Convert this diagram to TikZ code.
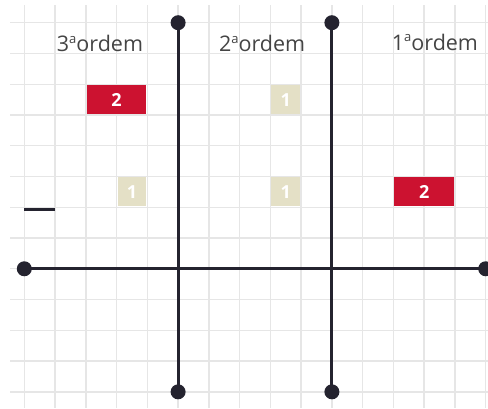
\documentclass[tikz,border=0pt]{standalone}
\usepackage{fontspec}
\setmainfont{Open Sans}
\definecolor{gridc}{HTML}{E6E6E6}
\definecolor{axisc}{HTML}{24232F}
\definecolor{redc}{HTML}{CC1230}
\definecolor{beigec}{HTML}{E4E0C6}
\definecolor{textc}{HTML}{444444}
\newcommand{\ordtxt}[1]{#1\raisebox{0.40em}{\fontsize{13}{13}\selectfont a}ordem}
\begin{document}
\begin{tikzpicture}[x=30.76pt,y=-30.76pt,
  gridline/.style={draw=gridc,line width=1.4pt},
  axis/.style={draw=axisc,line width=3pt},
  enddot/.style={circle,fill=axisc,inner sep=0pt,minimum size=15pt},
  redbox/.style={fill=redc,draw=none},
  beigebox/.style={fill=beigec,draw=none},
  numtxt/.style={text=white,font=\fontsize{18}{18}\selectfont\bfseries},
  ordlabel/.style={text=textc,font=\fontsize{21.5}{21.5}\selectfont,anchor=base}]
\useasboundingbox (-0.79,-0.738) rectangle (15.075,12.526);
% grid
\foreach \i in {0,...,15} \draw[gridline] (\i,-0.576) -- (\i,12.526);
\foreach \j in {0,...,12} \draw[gridline] (-0.46,\j) -- (15.075,\j);
% boxes
\fill[redbox] (2.03,2.03) rectangle (3.97,2.97);
\node[numtxt] (r1) at (3,2.5) {2};
\fill[beigebox] (8.03,2.03) rectangle (8.97,2.97);
\node[numtxt] (b1) at (8.5,2.5) {1};
\fill[beigebox] (3.03,5.03) rectangle (3.97,5.97);
\node[numtxt] (b2) at (3.5,5.5) {1};
\fill[beigebox] (8.03,5.03) rectangle (8.97,5.97);
\node[numtxt] (b3) at (8.5,5.5) {1};
\fill[redbox] (12.03,5.03) rectangle (13.97,5.97);
\node[numtxt] (r2) at (13,5.5) {2};
% labels
\node[ordlabel] (l3) at (2.46,0.95) {\ordtxt{3}};
\node[ordlabel] (l2) at (7.73,0.95) {\ordtxt{2}};
\node[ordlabel] (l1) at (13.35,0.89) {\ordtxt{1}};
% dash
\coordinate (d1) at (0,6.06);
\coordinate (d2) at (1,6.06);
\draw[axis] (d1) -- (d2);
% axes
\node[enddot] (vt1) at (5,0) {};
\node[enddot] (vb1) at (5,12) {};
\node[enddot] (vt2) at (10,0) {};
\node[enddot] (vb2) at (10,12) {};
\node[enddot] (hl) at (0,8) {};
\node[enddot] (hr) at (15,8) {};
\draw[axis] (vt1.center) -- (vb1.center);
\draw[axis] (vt2.center) -- (vb2.center);
\draw[axis] (hl.center) -- (hr.center);
\end{tikzpicture}
\end{document}
